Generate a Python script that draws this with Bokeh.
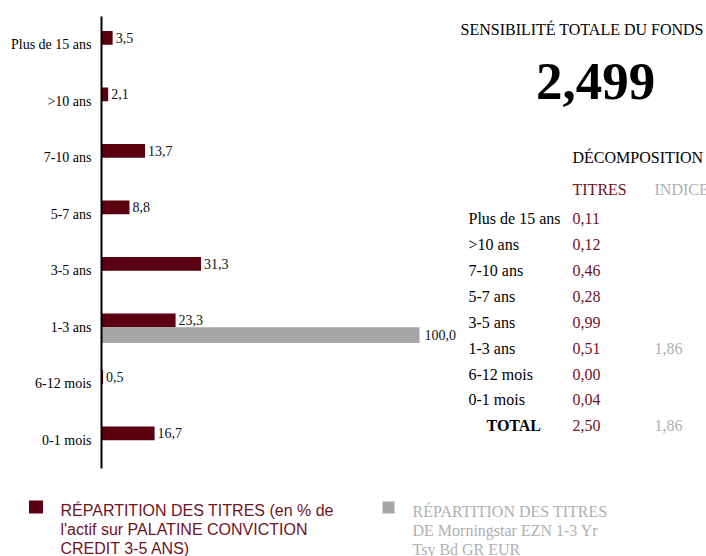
from bokeh.plotting import figure
from bokeh.layouts import column
from bokeh.models import ColumnDataSource, FactorRange, Range1d, Label
from bokeh.transform import dodge
from bokeh.core.properties import value
from bokeh.embed import file_html
from bokeh.resources import INLINE

# ---- data ----
categories = ["Plus de 15 ans", ">10 ans", "7-10 ans", "5-7 ans",
              "3-5 ans", "1-3 ans", "6-12 mois", "0-1 mois"]
titres = [3.5, 2.1, 13.7, 8.8, 31.3, 23.3, 0.5, 16.7]
indice_categories = ["1-3 ans"]
indice = [100.0]
sens_titres = [0.11, 0.12, 0.46, 0.28, 0.99, 0.51, 0.00, 0.04]
sens_indice = {"1-3 ans": 1.86}
total_titres = 2.50
total_indice = 1.86
sensibilite_totale = 2.499
legend_titres = ["RÉPARTITION DES TITRES (en % de",
                 "l'actif sur PALATINE CONVICTION",
                 "CREDIT 3-5 ANS)"]
legend_indice = ["RÉPARTITION DES TITRES",
                 "DE Morningstar EZN 1-3 Yr",
                 "Tsy Bd GR EUR"]


def fr(v, d):
    return f"{v:.{d}f}".replace(".", ",")


# ---- style ----
W, H = 706, 556
H1 = 490
FL, FT, FB = 101, 16, 468
PX_PER_UNIT = 3.18
RED = "#5c0011"
GRAY = "#a6a6a6"
TXT_RED = "#6f1325"
TXT_GRAY = "#b0b0b0"
SERIF = "Liberation Serif"
SANS = "Liberation Sans"

p = figure(width=W, height=H1,
           y_range=FactorRange(factors=categories[::-1], range_padding=0),
           x_range=Range1d(0, (W - FL) / PX_PER_UNIT),
           x_axis_location=None, output_backend="svg", toolbar_location=None,
           min_border_left=FL, min_border_right=0, min_border_top=FT,
           min_border_bottom=H1 - FB)
p.frame_align = False
p.outline_line_color = None
p.background_fill_color = "white"
p.border_fill_color = "white"
p.xgrid.grid_line_color = None
p.ygrid.grid_line_color = None

ax = p.yaxis[0]
ax.axis_line_color = "black"
ax.axis_line_width = 2
ax.major_tick_line_color = None
ax.minor_tick_line_color = None
ax.major_tick_out = 0
ax.major_tick_in = 0
ax.major_label_standoff = 10
ax.major_label_text_font = SERIF
ax.major_label_text_font_size = "14px"
ax.major_label_text_color = "black"

src_t = ColumnDataSource(dict(cat=categories, val=titres,
                              lab=[fr(v, 1) for v in titres]))
src_i = ColumnDataSource(dict(cat=indice_categories, val=indice,
                              lab=[fr(v, 1) for v in indice]))

y_t = dodge("cat", 0.122, range=p.y_range)
y_i = dodge("cat", -0.14, range=p.y_range)
p.hbar(y=y_t, left=0, right="val", height=0.244, source=src_t,
       fill_color=RED, line_color=None)
p.hbar(y=y_i, left=0, right="val", height=0.28, source=src_i,
       fill_color=GRAY, line_color=None)
p.text(x="val", y=y_t, text="lab", source=src_t, x_offset=3,
       text_baseline="middle", text_align="left",
       text_font=value(SERIF), text_font_size="14px", text_color="#111111")
p.text(x="val", y=y_i, text="lab", source=src_i, x_offset=5,
       text_baseline="middle", text_align="left",
       text_font=value(SERIF), text_font_size="14px", text_color="#111111")


def lab(text, px, py, size=16, color="black", font=SERIF,
        style="normal", align="left"):
    # py is the visual baseline in page pixels
    yc = py - 0.35 * size
    p.add_layout(Label(x=px - FL, y=FB - yc, x_units="screen", y_units="screen",
                       text=text, text_font=font, text_font_size=f"{size}px",
                       text_color=color, text_font_style=style,
                       text_align=align, text_baseline="alphabetic"))


# right panel
lab("SENSIBILITÉ TOTALE DU FONDS", 460, 35)
lab(fr(sensibilite_totale, 3), 595, 100, size=53, style="bold", align="center")
lab("DÉCOMPOSITION", 572, 163)
lab("TITRES", 572, 195, color=TXT_RED)
lab("INDICE", 654, 195, color=TXT_GRAY)
row0, step = 224, 25.85
for i, c in enumerate(categories):
    yy = row0 + i * step
    lab(c, 468, yy)
    lab(fr(sens_titres[i], 2), 572, yy, color=TXT_RED)
    if c in sens_indice:
        lab(fr(sens_indice[c], 2), 654, yy, color=TXT_GRAY)
yy = row0 + len(categories) * step
lab("TOTAL", 486, yy, style="bold")
lab(fr(total_titres, 2), 572, yy, color=TXT_RED)
lab(fr(total_indice, 2), 654, yy, color=TXT_GRAY)

# ---- legend (second figure, page-pixel coordinates) ----
leg = figure(width=W, height=H - H1, x_range=Range1d(0, W),
             y_range=Range1d(H, H1), x_axis_location=None, y_axis_location=None,
             output_backend="svg", toolbar_location=None,
             min_border=0, min_border_left=0, min_border_right=0,
             min_border_top=0, min_border_bottom=0)
leg.frame_align = False
leg.outline_line_color = None
leg.xgrid.grid_line_color = None
leg.ygrid.grid_line_color = None
leg.background_fill_color = "white"
leg.border_fill_color = "white"

leg.quad(left=[28.5, 382], right=[42.5, 394], top=[500, 501],
         bottom=[513, 513], fill_color=[RED, GRAY], line_color=None)
lx, ly, lt = [], [], []
for i, (a, b) in enumerate(zip(legend_titres, legend_indice)):
    base = 516 + i * 19
    lx += [60, 412]
    ly += [base - 0.35 * 16, base + 0.5 - 0.35 * 16]
    lt += [a, b]
leg.text(x=lx[0::2], y=ly[0::2], text=lt[0::2], text_baseline="middle",
         text_font=value(SANS), text_font_size="16px", text_color=TXT_RED)
leg.text(x=lx[1::2], y=ly[1::2], text=lt[1::2], text_baseline="middle",
         text_font=value(SERIF), text_font_size="16px", text_color=TXT_GRAY)

layout = column(p, leg, spacing=0)
open("out.html", "w").write(file_html(layout, INLINE))
